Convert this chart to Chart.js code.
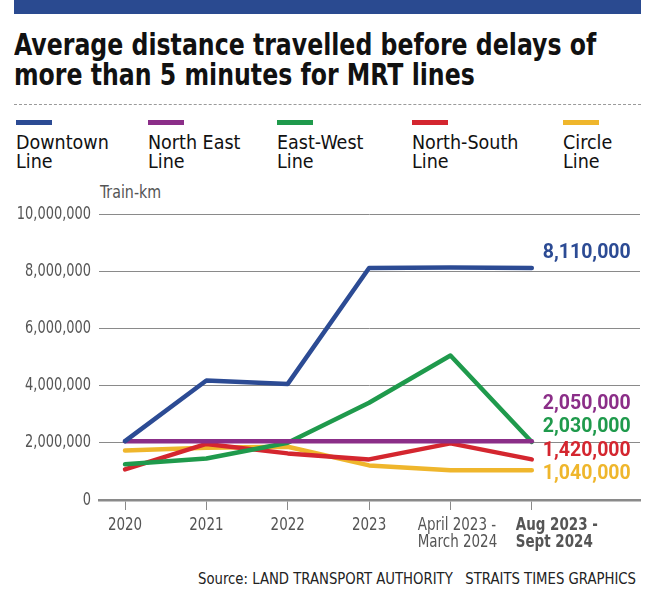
<!DOCTYPE html>
<html>
<head>
<meta charset="utf-8">
<script src="https://cdn.jsdelivr.net/npm/chart.js@4.4.1/dist/chart.umd.min.js"></script>
<style>
  body { margin: 0; background: #fff; width: 672px; height: 602px; overflow: hidden; position: relative;
         font-family: "DejaVu Sans Condensed", "Liberation Sans Narrow", Roboto, sans-serif; }
  .topbar { position: absolute; left: 14px; top: 0; width: 627px; height: 14px; background: #2a4a90; }
  .title { position: absolute; left: 14px; top: 29px; font-size: 31px; line-height: 30px; font-weight: bold; color: #111;
           white-space: nowrap; transform: scaleX(0.847); transform-origin: left top; }
  .dash { position: absolute; left: 14px; top: 104px; width: 627px; border-top: 1px dashed #9a9a9a; }
  .legend-item { position: absolute; top: 120px; }
  .legend-item .bar { width: 36px; height: 5px; }
  .legend-item .txt { margin-top: 8px; font-size: 19.5px; line-height: 19px; color: #111; white-space: nowrap; }
  .unit { position: absolute; left: 100px; top: 182px; font-size: 17px; line-height: 20px; color: #555;
          transform: scaleX(0.93); transform-origin: left top; }
  .source { position: absolute; right: 36px; top: 570px; font-size: 15.5px; color: #222; white-space: pre;
            transform: scaleX(0.95); transform-origin: right top; }
  canvas { position: absolute; left: 0; top: 190px; }
</style>
</head>
<body>
<div class="topbar"></div>
<div class="title">Average distance travelled before delays of<br>more than 5 minutes for MRT lines</div>
<div class="dash"></div>
<div id="legend"></div>
<div class="unit">Train-km</div>
<canvas id="myChart" width="672" height="370"></canvas>
<div class="source">Source: LAND TRANSPORT AUTHORITY   STRAITS TIMES GRAPHICS</div>
<script>
const periods = ['2020', '2021', '2022', '2023', 'April 2023 -\nMarch 2024', 'Aug 2023 -\nSept 2024'];
const lineNames = ['Downtown Line', 'North East Line', 'East-West Line', 'North-South Line', 'Circle Line'];
const lineColors = ['#2c4b94', '#8b2e88', '#1f9a4c', '#d4262f', '#efb62c'];

const downtown = [2060000, 4180000, 4060000, 8110000, 8130000, 8110000];
const northEast = [2050000, 2050000, 2050000, 2050000, 2050000, 2050000];
const eastWest = [1250000, 1450000, 2000000, 3400000, 5050000, 2030000];
const northSouth = [1070000, 1960000, 1630000, 1420000, 1980000, 1420000];
const circle = [1730000, 1830000, 1860000, 1210000, 1040000, 1040000];

const yTicks = [0, 2000000, 4000000, 6000000, 8000000, 10000000];

const seriesValues = [downtown, northEast, eastWest, northSouth, circle];

// legend (two-line labels)
const legendLeft = [16, 148, 277, 412, 563];
const legendBox = document.getElementById('legend');
lineNames.forEach(function(name, i) {
  const parts = name.split(' ');
  const last = parts.pop();
  const div = document.createElement('div');
  div.className = 'legend-item';
  div.style.left = legendLeft[i] + 'px';
  div.innerHTML = '<div class="bar" style="background:' + lineColors[i] + '"></div>' +
                  '<div class="txt">' + parts.join(' ') + '<br>' + last + '</div>';
  legendBox.appendChild(div);
});

const narrow = '"DejaVu Sans Condensed", "Liberation Sans Narrow", Roboto, sans-serif';
// the two long period labels sit a little right of their tick
const xLabelShift = [0, 0, 0, 0, 7, 25];

// tick labels drawn a bit squeezed, to get a condensed look
const squeezeTicks = {
  id: 'squeezeTicks',
  afterDraw(chart) {
    const ctx = chart.ctx;
    const xs = chart.scales.x, ys = chart.scales.y;
    ctx.save();
    ctx.fillStyle = '#555';
    ctx.textBaseline = 'middle';
    ctx.font = '18px ' + narrow;
    ctx.textAlign = 'right';
    ys.ticks.forEach(function(t) {
      ctx.save();
      ctx.translate(ys.right - 8, ys.getPixelForValue(t.value));
      ctx.scale(0.8, 1);
      ctx.fillText(t.value.toLocaleString('en-US'), 0, 0);
      ctx.restore();
    });
    const sx = 0.88;
    ctx.textAlign = 'left';
    xs.ticks.forEach(function(t) {
      const lines = periods[t.value].split('\n');
      const last = t.value === periods.length - 1;
      ctx.font = (last ? 'bold ' : '') + '17px ' + narrow;
      const w = Math.max.apply(null, lines.map(l => ctx.measureText(l).width)) * sx;
      const left = xs.getPixelForValue(t.value) + xLabelShift[t.value] - w / 2;
      lines.forEach(function(line, k) {
        ctx.save();
        ctx.translate(left, xs.top + 26 + k * 17);
        ctx.scale(sx, 1);
        ctx.fillText(line, 0, 0);
        ctx.restore();
      });
    });
    ctx.restore();
  }
};

// end-of-line value labels, stacked so they don't overlap
const endLabels = {
  id: 'endLabels',
  afterDatasetsDraw(chart) {
    const ctx = chart.ctx;
    const xs = chart.scales.x, ys = chart.scales.y;
    const lastIdx = periods.length - 1;
    const x = xs.getPixelForValue(lastIdx) + 11;
    const items = seriesValues.map((vals, i) => ({ i: i, v: vals[lastIdx], y0: ys.getPixelForValue(vals[lastIdx]) }));
    items.sort((a, b) => a.v - b.v);
    let prev = null;
    items.forEach(function(it) {
      if (prev === null) {
        it.y = it.y0 + 4;
      } else if (it.y0 < prev - 60) {
        it.y = it.y0 - 15;
      } else {
        it.y = Math.min(it.y0, prev - 23.5);
      }
      prev = it.y;
    });
    ctx.save();
    ctx.font = 'bold 19.5px Roboto, sans-serif';
    ctx.textAlign = 'left';
    ctx.textBaseline = 'middle';
    items.forEach(function(it) {
      ctx.fillStyle = lineColors[it.i];
      ctx.fillText(it.v.toLocaleString('en-US'), x, it.y);
    });
    ctx.restore();
  }
};

const myChart = new Chart('myChart', {
  type: 'line',
  data: {
    datasets: seriesValues.map(function(vals, i) {
      return {
        label: lineNames[i],
        data: vals.map((v, j) => ({ x: j, y: v })),
        borderColor: lineColors[i],
        backgroundColor: lineColors[i],
        borderWidth: 4.5,
        pointRadius: 0,
        tension: 0,
        borderJoinStyle: 'round',
        borderCapStyle: 'round',
        order: i
      };
    })
  },
  options: {
    responsive: false,
    animation: false,
    layout: { padding: { top: 24, right: 32, left: 0, bottom: 0 } },
    plugins: { legend: { display: false }, tooltip: { enabled: false } },
    scales: {
      x: {
        type: 'linear',
        min: -0.32,
        max: 6.33,
        afterBuildTicks: function(scale) {
          scale.ticks = periods.map((p, i) => ({ value: i }));
        },
        afterFit: function(scale) { scale.height = 60; },
        grid: { drawOnChartArea: false, drawTicks: true, tickLength: 10, color: '#8a8a8a', lineWidth: 1 },
        border: { color: '#8a8a8a', width: 2.5 },
        ticks: { display: false }
      },
      y: {
        min: 0,
        max: 10000000,
        afterBuildTicks: function(scale) {
          scale.ticks = yTicks.map(v => ({ value: v }));
        },
        afterFit: function(scale) { scale.width = 99; },
        grid: {
          drawTicks: false,
          color: '#8a8a8a',
          lineWidth: function(c) { return c.tick && c.tick.value === 0 ? 0 : 1; }
        },
        border: { display: false },
        ticks: { display: false }
      }
    }
  },
  plugins: [squeezeTicks, endLabels]
});
</script>
</body>
</html>
